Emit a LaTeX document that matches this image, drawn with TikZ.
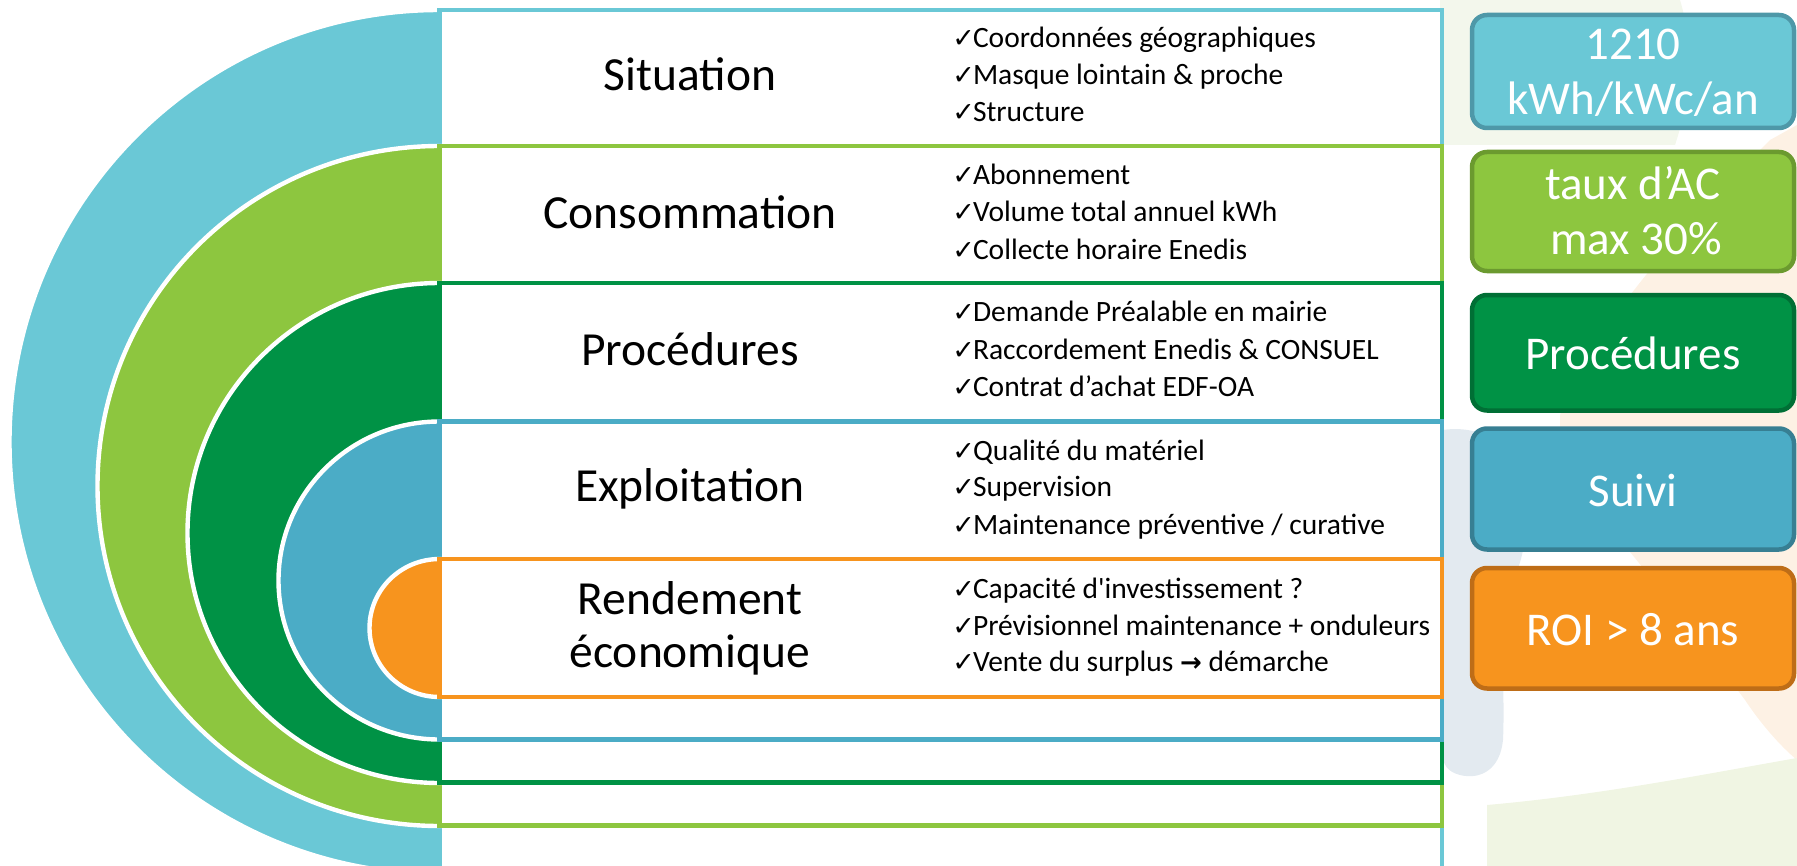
\documentclass[tikz,border=0pt]{standalone}
\usepackage{fontspec}
\newfontfamily\calibri{Carlito}
\newfontfamily\dejavu{DejaVu Sans}
\definecolor{lblue}{HTML}{6AC8D6}
\definecolor{lgreen}{HTML}{8DC63F}
\definecolor{dgreen}{HTML}{009245}
\definecolor{mblue}{HTML}{4BACC6}
\definecolor{orng}{HTML}{F7941E}
\definecolor{lbluedk}{HTML}{4E98A8}
\definecolor{lgreendk}{HTML}{6B9A2F}
\definecolor{dgreendk}{HTML}{006F35}
\definecolor{mbluedk}{HTML}{377F93}
\definecolor{orngdk}{HTML}{BE6D17}
\definecolor{bggrey}{HTML}{E3EAF0}
\definecolor{bggreen}{HTML}{F0F5E3}
\definecolor{bggreentop}{HTML}{F3F7EC}
\definecolor{bgbeige}{HTML}{FDF1E4}
\newcommand{\myck}{\makebox[10.3pt][l]{\dejavu\fontsize{13.5}{13.5}\selectfont ✓}}
\newcommand{\myarrow}{{\dejavu\bfseries\fontsize{13}{13}\selectfont →}}
\tikzset{
  titletext/.style={font=\calibri\fontsize{23.75}{27}\selectfont, anchor=base, inner sep=0pt},
  bullettext/.style={font=\calibri\fontsize{14.75}{18}\selectfont, anchor=base west, inner sep=0pt},
  disc/.style={draw=white, line width=2.2pt},
  band/.style={fill=white, line width=2.3pt},
  kpi/.style={rounded corners=7.5pt, line width=2.25pt},
  kpitext/.style={font=\calibri\fontsize{23.5}{27.5}\selectfont, text=white, anchor=base, inner sep=0pt}
}
\begin{document}
\begin{tikzpicture}[x=0.5pt,y=-0.5pt]
\useasboundingbox (0,0) rectangle (1797,866);
\clip (0,0) rectangle (1797,866);
% faint background
\fill[bggreentop] (1440,0) -- (1680,0) .. controls (1695,50) and (1690,100) .. (1675,145) -- (1440,145) -- cycle;
\fill[bgbeige] (1797,125) -- (1770,140) .. controls (1680,230) and (1590,330) .. (1560,415) -- (1560,470) .. controls (1640,560) and (1700,640) .. (1745,700) .. controls (1765,730) and (1785,750) .. (1797,760) -- cycle;
\fill[bggrey] (1442,430) .. controls (1480,425) and (1505,440) .. (1515,480) .. controls (1528,520) and (1530,550) .. (1508,590) .. controls (1500,640) and (1505,700) .. (1503,740) .. controls (1500,770) and (1480,780) .. (1460,775) .. controls (1448,772) and (1442,765) .. (1442,750) -- cycle;
\fill[bggreen] (1487,866) -- (1487,805) .. controls (1600,795) and (1700,775) .. (1797,758) -- (1797,866) -- cycle;
% level 1 : Situation
\filldraw[disc, fill=lblue] (439.5,442) ellipse [x radius=430, y radius=432];
\draw[band, draw=lblue] (439.5,10) rectangle (1442,890);
% level 2 : Consommation
\filldraw[disc, fill=lgreen] (439.5,486) ellipse [x radius=342, y radius=340];
\draw[band, draw=lgreen] (439.5,146) rectangle (1442,825.5);
% level 3 : Procedures
\filldraw[disc, fill=dgreen] (439.5,533) ellipse [x radius=252, y radius=250];
\draw[band, draw=dgreen] (439.5,283) rectangle (1442,782.5);
% level 4 : Exploitation
\filldraw[disc, fill=mblue] (439.5,580.5) ellipse [x radius=161, y radius=159];
\draw[band, draw=mblue] (439.5,421.5) rectangle (1442,739.5);
% level 5 : Rendement
\filldraw[disc, fill=orng] (439.5,628) ellipse [x radius=70, y radius=69];
\draw[band, draw=orng] (439.5,559) rectangle (1442,697);
% titles
\node[titletext] (t1) at (690,91) {Situation};
\node[titletext] (t2) at (690,228) {Consommation};
\node[titletext] (t3) at (690,365) {Procédures};
\node[titletext] (t4) at (690,501.7) {Exploitation};
\node[titletext] (t5a) at (690,614) {Rendement};
\node[titletext] (t5b) at (690,667.7) {économique};
% bullets
\node[bullettext] (b11) at (952,47.7) {\myck Coordonnées géographiques};
\node[bullettext] (b12) at (952,85) {\myck Masque lointain \& proche};
\node[bullettext] (b13) at (952,121.7) {\myck Structure};
\node[bullettext] (b21) at (952,184.3) {\myck Abonnement};
\node[bullettext] (b22) at (952,221.7) {\myck Volume total annuel kWh};
\node[bullettext] (b23) at (952,259) {\myck Collecte horaire Enedis};
\node[bullettext] (b31) at (952,321.7) {\myck Demande Préalable en mairie};
\node[bullettext] (b32) at (952,359) {\myck Raccordement Enedis \& CONSUEL};
\node[bullettext] (b33) at (952,396) {\myck Contrat d’achat EDF-OA};
\node[bullettext] (b41) at (952,460) {\myck Qualité du matériel};
\node[bullettext] (b42) at (952,496.7) {\myck Supervision};
\node[bullettext] (b43) at (952,534) {\myck Maintenance préventive / curative};
\node[bullettext] (b51) at (952,598.3) {\myck Capacité d'investissement ?};
\node[bullettext] (b52) at (952,635) {\myck Prévisionnel maintenance + onduleurs};
\node[bullettext] (b53) at (952,671.7) {\myck Vente du surplus \myarrow{} démarche};
% KPI boxes
\draw[kpi, draw=lbluedk, fill=lblue] (1472,15) rectangle (1794,128);
\node[kpitext] (k1a) at (1633,59.3) {1210};
\node[kpitext] (k1b) at (1633,114.3) {kWh/kWc/an};
\draw[kpi, draw=lgreendk, fill=lgreen] (1472,152) rectangle (1794,271);
\node[kpitext] (k2a) at (1633,199) {taux d’AC};
\node[kpitext] (k2b) at (1636,255) {max 30\%};
\draw[kpi, draw=dgreendk, fill=dgreen] (1472,295) rectangle (1794,410.5);
\node[kpitext] (k3) at (1633,369.3) {Procédures};
\draw[kpi, draw=mbluedk, fill=mblue] (1472,428.5) rectangle (1794,549.5);
\node[kpitext] (k4) at (1633,506) {Suivi};
\draw[kpi, draw=orngdk, fill=orng] (1472,568) rectangle (1794,688.5);
\node[kpitext] (k5) at (1633,645) {ROI > 8 ans};
\end{tikzpicture}
\end{document}
